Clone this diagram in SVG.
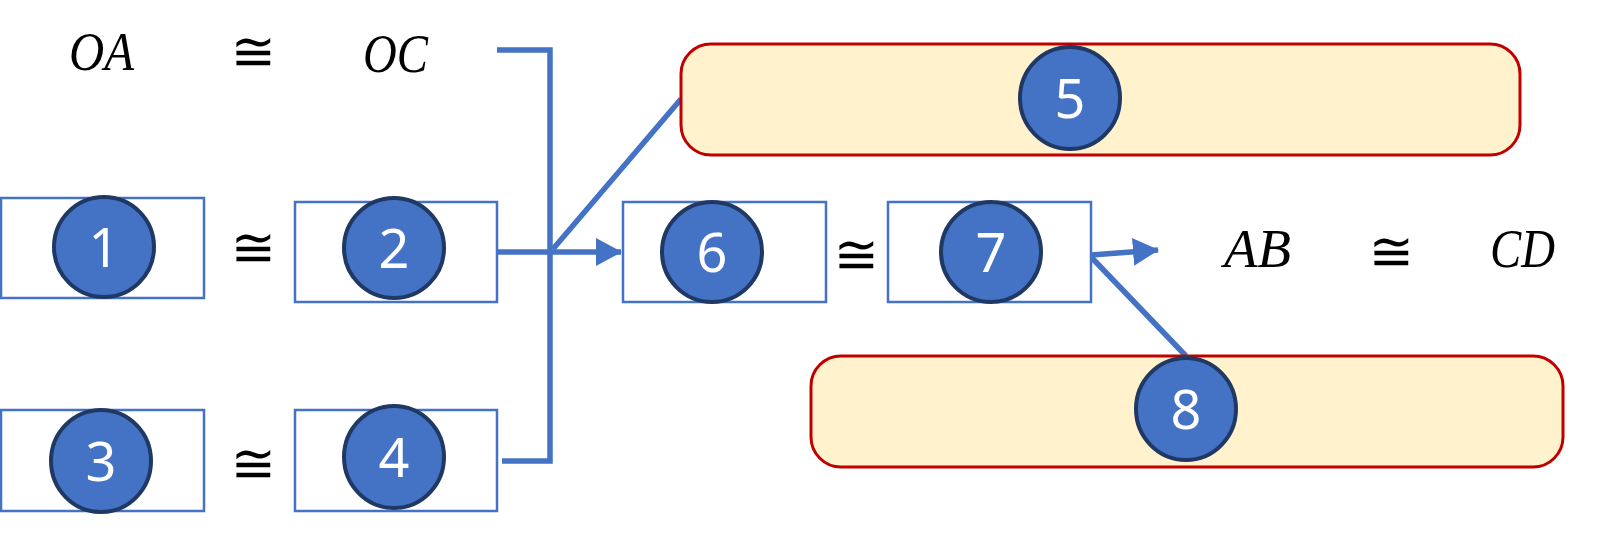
<svg xmlns="http://www.w3.org/2000/svg" width="1624" height="538" viewBox="0 0 1624 538">
<style>
.box{fill:#ffffff;stroke:#4472C4;stroke-width:2.5}
.rbox{fill:#FFF2CC;stroke:#C00000;stroke-width:3}
.badge{fill:#4472C4;stroke:#1F3864;stroke-width:4}
.num{font-family:"Noto Sans","Open Sans",sans-serif;font-size:54px;fill:#ffffff;text-anchor:middle}
.math{font-family:"Liberation Serif","DejaVu Serif",serif;font-style:italic;font-size:54px;fill:#000000}
.cong{font-family:"DejaVu Sans",sans-serif;font-size:54px;fill:#000000;text-anchor:middle}
.conn{fill:none;stroke:#4472C4;stroke-width:5.5}
</style>
<defs>
<marker id="arr" markerUnits="userSpaceOnUse" markerWidth="26" markerHeight="28" refX="25" refY="14" orient="auto">
<path d="M0,0 L26,14 L0,28 z" fill="#4472C4"/>
</marker>
</defs>
<g id="connectors">
<polyline class="conn" points="497,50 550,50 550,461 502,461"/>
<line class="conn" x1="497" y1="252" x2="621" y2="252" marker-end="url(#arr)"/>
<line class="conn" x1="553" y1="249" x2="681" y2="99"/>
<line class="conn" x1="1091" y1="255" x2="1158" y2="250" marker-end="url(#arr)"/>
<line class="conn" x1="1092" y1="258" x2="1186" y2="356"/>
</g>
<g id="eq-top">
<text class="math" x="69" y="70" textLength="65" lengthAdjust="spacingAndGlyphs">OA</text>
<text class="cong" x="253" y="70">≅</text>
<text class="math" x="363" y="72" textLength="65" lengthAdjust="spacingAndGlyphs">OC</text>
</g>
<g id="node1">
<rect class="box" x="1" y="198" width="203" height="100"/>
<ellipse class="badge" cx="104" cy="247" rx="50" ry="50"/>
<text class="num" x="104" y="267">1</text>
</g>
<text class="cong" x="253" y="266">≅</text>
<g id="node2">
<rect class="box" x="295" y="202" width="202" height="100"/>
<ellipse class="badge" cx="394" cy="248" rx="50" ry="50"/>
<text class="num" x="394" y="268">2</text>
</g>
<g id="node3">
<rect class="box" x="1" y="410" width="203" height="101"/>
<ellipse class="badge" cx="101" cy="461" rx="50" ry="51"/>
<text class="num" x="101" y="481">3</text>
</g>
<text class="cong" x="253" y="482">≅</text>
<g id="node4">
<rect class="box" x="295" y="410" width="202" height="101"/>
<ellipse class="badge" cx="394" cy="457" rx="50" ry="51"/>
<text class="num" x="394" y="477">4</text>
</g>
<g id="node5">
<rect class="rbox" x="681" y="44" width="839" height="111" rx="30" ry="30"/>
<ellipse class="badge" cx="1070" cy="98" rx="50" ry="51"/>
<text class="num" x="1070" y="118">5</text>
</g>
<g id="node6">
<rect class="box" x="623" y="202" width="203" height="100"/>
<ellipse class="badge" cx="712" cy="252" rx="50" ry="50"/>
<text class="num" x="712" y="272">6</text>
</g>
<text class="cong" x="856" y="273">≅</text>
<g id="node7">
<rect class="box" x="888" y="202" width="203" height="100"/>
<ellipse class="badge" cx="991" cy="252" rx="50" ry="50"/>
<text class="num" x="991" y="272">7</text>
</g>
<g id="eq-right">
<text class="math" x="1224" y="267" textLength="67" lengthAdjust="spacingAndGlyphs">AB</text>
<text class="cong" x="1391" y="270">≅</text>
<text class="math" x="1490" y="267" textLength="65" lengthAdjust="spacingAndGlyphs">CD</text>
</g>
<g id="node8">
<rect class="rbox" x="811" y="356" width="752" height="111" rx="30" ry="30"/>
<ellipse class="badge" cx="1186" cy="409" rx="50" ry="51"/>
<text class="num" x="1186" y="429">8</text>
</g>
</svg>
